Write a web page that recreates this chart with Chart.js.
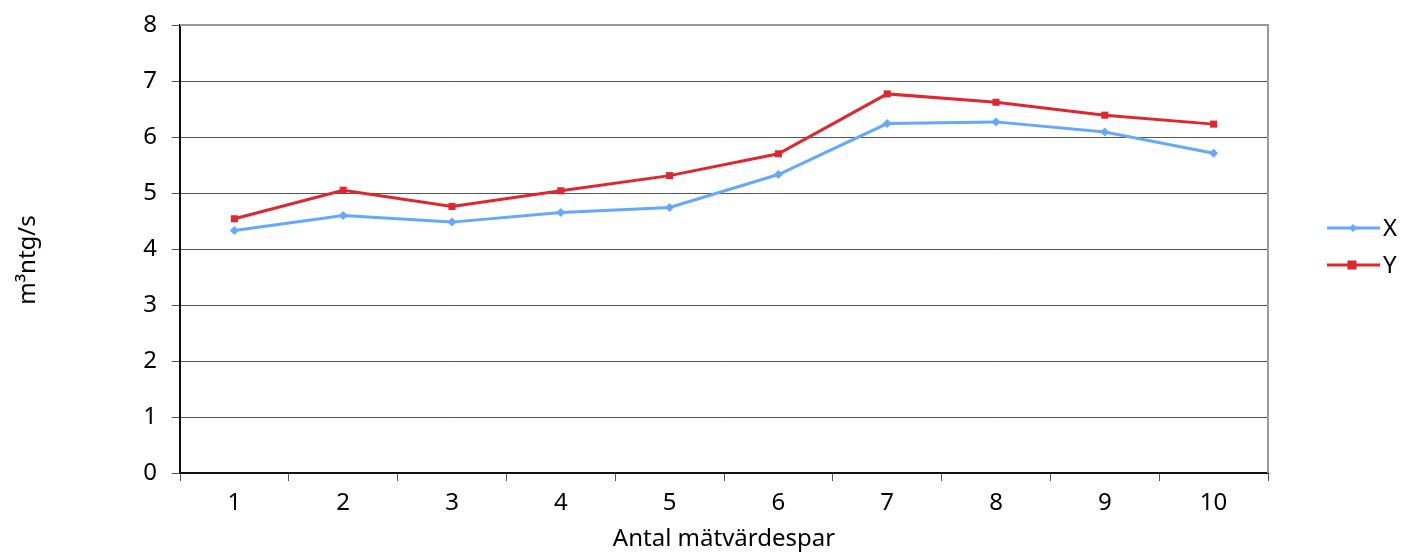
<!DOCTYPE html>
<html>
<head>
<meta charset="utf-8">
<script src="https://cdn.jsdelivr.net/npm/chart.js@4.4.0/dist/chart.umd.min.js"></script>
<style>
html,body{margin:0;padding:0;background:#fff;}
#wrap{width:1404px;height:552px;position:relative;}
</style>
</head>
<body>
<div id="wrap"><canvas id="c" width="1404" height="552"></canvas></div>
<script>
const categories = ['1','2','3','4','5','6','7','8','9','10'];
const seriesX = [4.33, 4.60, 4.48, 4.65, 4.74, 5.33, 6.24, 6.27, 6.09, 5.71];
const seriesY = [4.54, 5.05, 4.76, 5.04, 5.31, 5.70, 6.77, 6.62, 6.39, 6.23];
const yTicks = [0,1,2,3,4,5,6,7,8];
const xTitle = 'Antal mätvärdespar';
const yTitle = 'm³ntg/s';

const FONT = '"Noto Sans", "Open Sans", sans-serif';
const FS = 24;
const BLUE = '#64a8ff';
const RED = '#e0262e';

const extras = {
  id: 'extras',
  afterDraw(chart) {
    const {ctx, chartArea: a} = chart;
    ctx.save();
    ctx.strokeStyle = '#9a9a9a';
    ctx.lineWidth = 2;
    ctx.beginPath();
    ctx.moveTo(a.left, a.top);
    ctx.lineTo(a.right, a.top);
    ctx.lineTo(a.right, a.bottom);
    ctx.stroke();
    ctx.fillStyle = '#000';
    ctx.font = FS + 'px ' + FONT;
    ctx.textAlign = 'center';
    ctx.textBaseline = 'middle';
    ctx.translate(28, 260);
    ctx.rotate(-Math.PI/2);
    ctx.fillText(yTitle, 0, 0);
    ctx.restore();
    ctx.save();
    const ys = [228, 265];
    chart.data.datasets.forEach((ds, i) => {
      const y = ys[i];
      ctx.strokeStyle = ds.borderColor;
      ctx.lineWidth = 3;
      ctx.beginPath();
      ctx.moveTo(1327, y);
      ctx.lineTo(1380, y);
      ctx.stroke();
      ctx.fillStyle = ds.borderColor;
      if (ds.pointStyle === 'rect') {
        ctx.fillRect(1352 - 4.5, y - 4.5, 9, 9);
      } else {
        ctx.beginPath();
        ctx.moveTo(1353, y - 4);
        ctx.lineTo(1357, y);
        ctx.lineTo(1353, y + 4);
        ctx.lineTo(1349, y);
        ctx.closePath();
        ctx.fill();
      }
      ctx.fillStyle = '#000';
      ctx.font = FS + 'px ' + FONT;
      ctx.textAlign = 'left';
      ctx.textBaseline = 'middle';
      ctx.fillText(ds.label, 1383, y + 1);
    });
    ctx.restore();
  }
};

new Chart(document.getElementById('c'), {
  type: 'line',
  data: {
    labels: categories,
    datasets: [
      {label: 'X', data: seriesX, borderColor: BLUE, backgroundColor: BLUE, borderWidth: 3,
       pointStyle: 'rectRot', pointRadius: 4.5, pointHoverRadius: 4.5, pointBorderWidth: 0, tension: 0},
      {label: 'Y', data: seriesY, borderColor: RED, backgroundColor: RED, borderWidth: 3,
       pointStyle: 'rect', pointRadius: 5, pointHoverRadius: 5, pointBorderWidth: 0, tension: 0}
    ]
  },
  options: {
    responsive: false,
    animation: false,
    devicePixelRatio: 1,
    layout: {padding: {top: 25, right: 136, left: 0, bottom: 0}},
    plugins: {legend: {display: false}, tooltip: {enabled: false}},
    scales: {
      x: {
        offset: true,
        afterFit(s) { s.height = 79; s.paddingLeft = 0; s.paddingRight = 0; },
        grid: {display: true, drawOnChartArea: false, drawTicks: true, tickLength: 8, offset: true, color: '#555', lineWidth: 1},
        border: {display: true, color: '#111', width: 2},
        ticks: {color: '#000', font: {size: FS, family: FONT}, padding: 8, maxRotation: 0},
        title: {display: true, text: xTitle, color: '#000', font: {size: FS, family: FONT}, padding: {top: 0, bottom: -2}}
      },
      y: {
        min: 0, max: 8,
        afterFit(s) { s.width = 180; s.paddingTop = 0; s.paddingBottom = 0; },
        afterBuildTicks(s) { s.ticks = yTicks.map(v => ({value: v})); },
        grid: {color: '#555', lineWidth: 1, drawTicks: true, tickLength: 8},
        border: {display: true, color: '#111', width: 2},
        ticks: {color: '#000', font: {size: FS, family: FONT}, padding: 15}
      }
    }
  },
  plugins: [extras]
});
</script>
</body>
</html>
